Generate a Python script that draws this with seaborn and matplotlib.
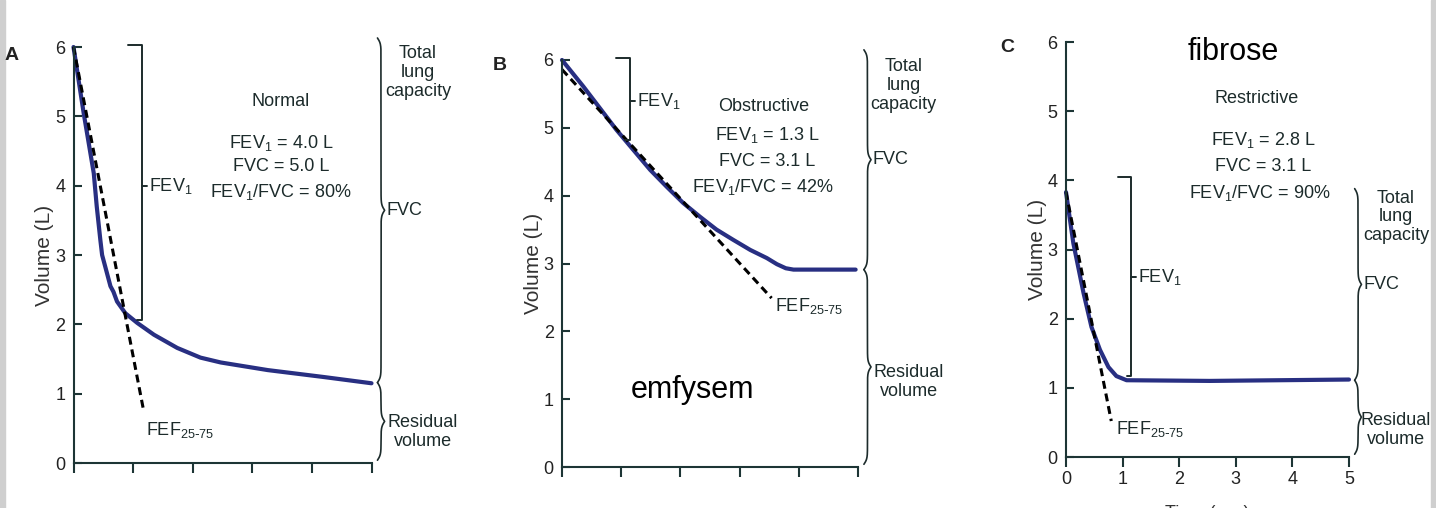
import numpy as np
import pandas as pd
import seaborn as sns
import matplotlib.pyplot as plt

# spirometry curves: time (s) and volume (L)
normal_t = [0, 0.17, 0.34, 0.39, 0.45, 0.48, 0.53, 0.62, 0.67, 0.73, 0.87, 1.07, 1.35, 1.74, 2.13, 2.47, 3.26, 4.2, 5.0]
normal_v = [6.0, 5.05, 4.18, 3.70, 3.22, 3.0, 2.84, 2.55, 2.47, 2.33, 2.16, 2.02, 1.85, 1.66, 1.52, 1.45, 1.34, 1.24, 1.15]
obstr_t = [0, 0.36, 0.64, 0.92, 1.20, 1.49, 1.77, 2.05, 2.33, 2.61, 2.89, 3.18, 3.46, 3.63, 3.78, 3.91, 4.96]
obstr_v = [6.0, 5.61, 5.29, 4.97, 4.68, 4.38, 4.13, 3.89, 3.69, 3.50, 3.35, 3.20, 3.08, 2.99, 2.93, 2.91, 2.91]
restr_t = [0, 0.13, 0.31, 0.45, 0.60, 0.75, 0.89, 1.07, 2.54, 5.0]
restr_v = [3.83, 3.09, 2.37, 1.88, 1.55, 1.30, 1.17, 1.11, 1.10, 1.12]

# FEF25-75 tangent lines (start, end)
normal_fef_t = [0, 1.18]
normal_fef_v = [6.0, 0.74]
obstr_fef_t = [0, 3.54]
obstr_fef_v = [5.86, 2.49]
restr_fef_t = [0, 0.80]
restr_fef_v = [3.83, 0.52]

# FEV1 bracket: top volume, volume after 1 s
normal_fev1 = [6.03, 2.06]
obstr_fev1 = [6.03, 4.82]
restr_fev1 = [4.05, 1.17]

# braces on the right: top of TLC, residual volume level
normal_tlc_rv = [6.13, 1.16]
obstr_tlc_rv = [6.15, 2.91]
restr_tlc_rv = [3.88, 1.11]

titles = ["Normal", "Obstructive", "Restrictive"]
stats = [
    ["FEV$_1$ = 4.0 L", "FVC = 5.0 L", "FEV$_1$/FVC = 80%"],
    ["FEV$_1$ = 1.3 L", "FVC = 3.1 L", "FEV$_1$/FVC = 42%"],
    ["FEV$_1$ = 2.8 L", "FVC = 3.1 L", "FEV$_1$/FVC = 90%"],
]
time_ticks = [0, 1, 2, 3, 4, 5]
vol_ticks = [0, 1, 2, 3, 4, 5, 6]

sns.set_style("ticks")
plt.rcParams["font.family"] = ["Liberation Sans Narrow", "Liberation Sans", "DejaVu Sans"]
plt.rcParams["mathtext.default"] = "regular"
plt.rcParams["font.size"] = 13

curve_col = "#282f82"
ink = "#1c2b2b"
axis_col = "#1d3535"


def brace(ax, x, lo, hi, w=0.12, k=25):
    y = np.linspace(lo, hi, 401)
    d = np.minimum(y - lo, hi - y)
    half = (hi - lo) / 2
    s = 1 / (1 + np.exp(-k * d)) + 1 / (1 + np.exp(-k * (d - half))) - 0.5
    ax.plot(x + w * s, y, color=ink, lw=1.2, clip_on=False)


def panel(ax, t, v, ft, fv, fev1, tlc_rv, labels_pos):
    df = pd.DataFrame({"t": t, "v": v})
    sns.lineplot(data=df, x="t", y="v", ax=ax, color=curve_col, lw=3, sort=False,
                 clip_on=False, solid_joinstyle="round", solid_capstyle="round")
    sns.lineplot(x=ft, y=fv, ax=ax, color="black", lw=2.2, linestyle=(0, (2.6, 1.6)), clip_on=False)
    ax.set_xlim(0, 5)
    ax.set_ylim(0, 6)
    ax.set_xticks(time_ticks)
    ax.set_yticks(vol_ticks)
    sns.despine(ax=ax)
    for s in ["left", "bottom"]:
        ax.spines[s].set_color(axis_col)
        ax.spines[s].set_linewidth(1.5)
    ax.tick_params(axis="y", direction="in", length=6, width=1.5, color=axis_col, pad=6, labelsize=13, labelcolor="#222")
    ax.tick_params(axis="x", direction="out", length=7, width=1.5, color=axis_col, pad=3, labelsize=13, labelcolor="#222")
    ax.set_ylabel("Volume (L)", fontsize=15, color="#333", labelpad=0.5)
    ax.set_xlabel("")

    # FEV1 bracket at 1 s
    bx = 1.15
    top, bot = fev1
    mid = labels_pos["fev1"]
    ax.plot([bx - 0.23, bx, bx, bx - 0.08], [top, top, bot, bot], color=ink, lw=1.4, clip_on=False)
    ax.plot([bx, bx + 0.08], [mid, mid], color=ink, lw=1.4, clip_on=False)
    ax.text(bx + 0.12, mid, "FEV$_1$", ha="left", va="center", color=ink)

    fx, fy = labels_pos["fef"]
    ax.text(fx, fy, "FEF$_{25\\text{-}75}$", ha="left", va="center", color=ink)

    # braces: FVC above residual volume
    tlc, rv = tlc_rv
    brace(ax, 5.1, rv, tlc)
    brace(ax, 5.1, 0.04, rv)
    tx, ty = labels_pos["tlc"]
    ax.text(tx, ty, "Total\nlung\ncapacity", ha="center", va="center", color=ink, linespacing=1.15)
    ax.text(5.25, (tlc + rv) / 2, "FVC", ha="left", va="center", color=ink)
    rx, ry = labels_pos["rv"]
    ax.text(rx, ry, "Residual\nvolume", ha="center", va="center", color=ink, linespacing=1.15,
            zorder=5)

    # title and summary values
    hx, hy = labels_pos["title"]
    ax.text(hx, hy, labels_pos["name"], ha="center", va="center", color=ink)
    for (sx, sy), line in zip(labels_pos["stats"], labels_pos["lines"]):
        ax.text(sx, sy, line, ha="center", va="center", color=ink)


fig = plt.figure(figsize=(14.36, 5.08), dpi=100)
W, H = 1436, 508

# grey edges of the scanned page, behind everything
fig.patches.append(plt.Rectangle((0, 0), 5 / W, 1, transform=fig.transFigure, color="#cfcfcf", zorder=-5))
fig.patches.append(plt.Rectangle((1 - 5 / W, 0), 5 / W, 1, transform=fig.transFigure, color="#cfcfcf", zorder=-5))

axA = fig.add_axes([73.5 / W, (H - 463) / H, 298 / W, 416 / H])
axB = fig.add_axes([562 / W, (H - 467) / H, 296 / W, 407 / H])
axC = fig.add_axes([1066 / W, (H - 457) / H, 283 / W, 415 / H])
for ax in (axA, axB, axC):
    ax.patch.set_alpha(0)

panel(axA, normal_t, normal_v, normal_fef_t, normal_fef_v, normal_fev1, normal_tlc_rv,
      {"fev1": 4.0, "fef": (1.22, 0.47), "tlc": (5.78, 5.63), "rv": (5.86, 0.45),
       "title": (3.47, 5.21), "name": titles[0],
       "stats": [(3.48, 4.61), (3.48, 4.27), (3.48, 3.91)], "lines": stats[0]})
panel(axB, obstr_t, obstr_v, obstr_fef_t, obstr_fef_v, obstr_fev1, obstr_tlc_rv,
      {"fev1": 5.39, "fef": (3.60, 2.38), "tlc": (5.77, 5.62), "rv": (5.86, 1.26),
       "title": (3.40, 5.31), "name": titles[1],
       "stats": [(3.46, 4.90), (3.46, 4.50), (3.40, 4.13)], "lines": stats[1]})
panel(axC, restr_t, restr_v, restr_fef_t, restr_fef_v, restr_fev1, restr_tlc_rv,
      {"fev1": 2.6, "fef": (0.89, 0.40), "tlc": (5.83, 3.47), "rv": (5.83, 0.39),
       "title": (3.36, 5.18), "name": titles[2],
       "stats": [(3.48, 4.58), (3.48, 4.20), (3.42, 3.81)], "lines": stats[2]})

axA.tick_params(axis="x", labelbottom=False)
axB.tick_params(axis="x", labelbottom=False)
axC.set_xlabel("Time (sec)", fontsize=13, color="#333", labelpad=12)

axB.text(2.2, 1.14, "emfysem", ha="center", va="center", fontsize=22,
         family=["Liberation Sans", "DejaVu Sans"], color="black")
axC.text(2.95, 5.86, "fibrose", ha="center", va="center", fontsize=22,
         family=["Liberation Sans", "DejaVu Sans"], color="black")

for letter, (px, py) in zip("ABC", [(12, 55), (500, 65), (1007, 48)]):
    fig.text(px / W, 1 - py / H, letter, ha="center", va="center", fontsize=14,
             fontweight="bold", color="#222")

fig.savefig("out.png", dpi=100)
